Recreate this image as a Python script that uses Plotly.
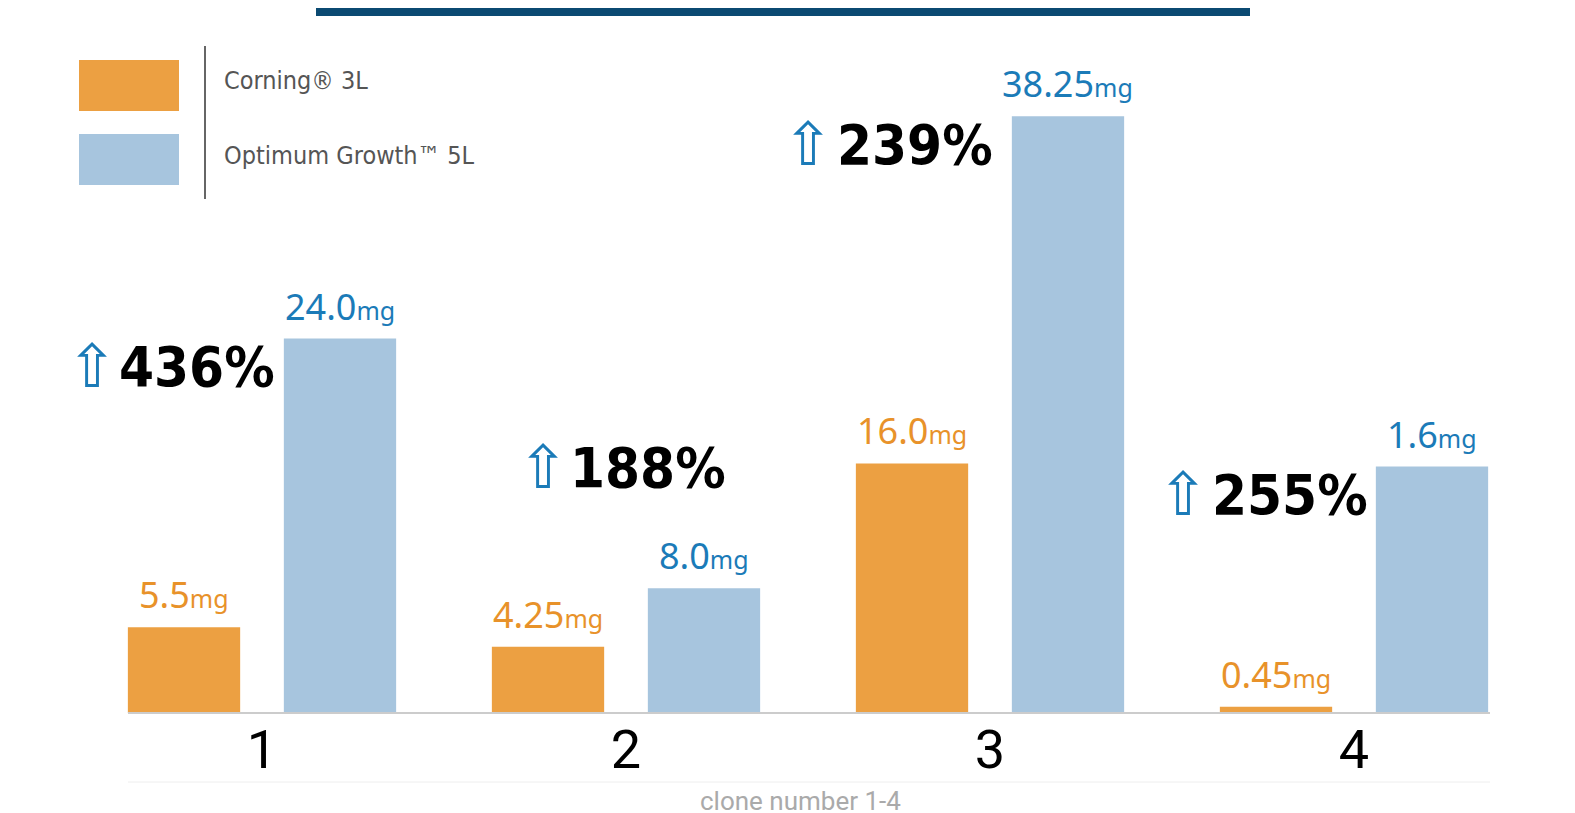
import plotly.graph_objects as go

clones = [1, 2, 3, 4]
corning_height = [5.5, 4.25, 16.0, 0.4]
optimum_height = [24.0, 8.0, 38.25, 15.8]
corning_labels = ["5.5", "4.25", "16.0", "0.45"]
optimum_labels = ["24.0", "8.0", "38.25", "1.6"]
increase = ["436%", "188%", "239%", "255%"]

ORANGE = "#eca042"
BLUE = "#a7c5de"
ORANGE_TXT = "#e8922a"
BLUE_TXT = "#1b7bb8"

# plot area in pixels: x 80..1536, y 40..709
def dx(px):
    return 0.5 + (px - 80) / 364.0

def dy(py):
    return (709 - py) / 15.6

def paper_x(px):
    return (px - 80) / 1456.0

def paper_y(py):
    return (709 - py) / 669.0

fig = go.Figure()
fig.add_trace(go.Bar(x=clones, y=corning_height, name="Corning® 3L",
                     marker=dict(color=ORANGE, line_width=0)))
fig.add_trace(go.Bar(x=clones, y=optimum_height, name="Optimum Growth™ 5L",
                     marker=dict(color=BLUE, line_width=0)))

ann = []
for i, c in enumerate(clones):
    ox = c - 0.214
    bx = c + 0.214
    ann.append(dict(x=ox, y=corning_height[i], yshift=6, yanchor="bottom", showarrow=False,
                    text=corning_labels[i] + "<span style='font-size:25px'>mg</span>",
                    font=dict(family="Noto Sans", size=36, color=ORANGE_TXT)))
    ann.append(dict(x=bx, y=optimum_height[i], yshift=6, yanchor="bottom", showarrow=False,
                    text=optimum_labels[i] + "<span style='font-size:25px'>mg</span>",
                    font=dict(family="Noto Sans", size=36, color=BLUE_TXT)))

# percentage callouts (pixel positions of the arrow and the number)
pct_pos = [(92, 197, 362), (543, 648, 463), (808, 915, 140), (1183, 1290, 490)]
for (ax_, tx, ty), p in zip(pct_pos, increase):
    ann.append(dict(x=dx(ax_), y=dy(ty), showarrow=False, text="⇧",
                    font=dict(family="DejaVu Sans", size=60, color=BLUE_TXT)))
    ann.append(dict(x=dx(tx), y=dy(ty), showarrow=False, text="<b>" + p + "</b>",
                    font=dict(family="DejaVu Sans Condensed, DejaVu Sans", size=56, color="black")))

# legend
ann.append(dict(xref="paper", yref="paper", x=paper_x(222), y=paper_y(60), xanchor="left",
                showarrow=False, text="Corning® 3L",
                font=dict(family="DejaVu Sans Condensed, DejaVu Sans", size=25, color="#555")))
ann.append(dict(xref="paper", yref="paper", x=paper_x(222), y=paper_y(135), xanchor="left",
                showarrow=False, text="Optimum Growth™ 5L",
                font=dict(family="DejaVu Sans Condensed, DejaVu Sans", size=25, color="#555")))
ann.append(dict(xref="paper", yref="paper", x=paper_x(800), y=paper_y(814),
                showarrow=False, text="clone number 1-4",
                font=dict(family="Roboto", size=26, color="#aaa")))

shapes = [
    dict(type="rect", xref="paper", yref="paper", x0=paper_x(79), x1=paper_x(179),
         y0=paper_y(107), y1=paper_y(56), fillcolor=ORANGE, line_width=0),
    dict(type="rect", xref="paper", yref="paper", x0=paper_x(79), x1=paper_x(179),
         y0=paper_y(181), y1=paper_y(130), fillcolor=BLUE, line_width=0),
    dict(type="line", xref="paper", yref="paper", x0=paper_x(205), x1=paper_x(205),
         y0=paper_y(195), y1=paper_y(42), line=dict(color="#666", width=2)),
    dict(type="rect", xref="paper", yref="paper", x0=paper_x(316), x1=paper_x(1250),
         y0=paper_y(12), y1=paper_y(-5), fillcolor="#0b4a72", line_width=0),
    dict(type="line", xref="paper", yref="paper", x0=paper_x(128), x1=paper_x(1490),
         y0=0, y1=0, line=dict(color="#ccc", width=2)),
    dict(type="line", xref="paper", yref="paper", x0=paper_x(128), x1=paper_x(1490),
         y0=paper_y(778), y1=paper_y(778), line=dict(color="#eee", width=1)),
]

fig.update_layout(
    width=1575, height=813,
    margin=dict(l=72, r=47, t=36, b=108),
    paper_bgcolor="white", plot_bgcolor="white",
    barmode="group", bargap=0.143, bargroupgap=0.28,
    showlegend=False,
    annotations=ann, shapes=shapes,
    xaxis=dict(range=[0.5, 4.5], tickvals=clones, ticktext=[str(c) for c in clones],
               tickfont=dict(family="Roboto", size=54, color="black"),
               showgrid=False, zeroline=False, showline=False, ticklen=0),
    yaxis=dict(range=[0, dy(40)], visible=False),
)

fig.write_html("out.html")
